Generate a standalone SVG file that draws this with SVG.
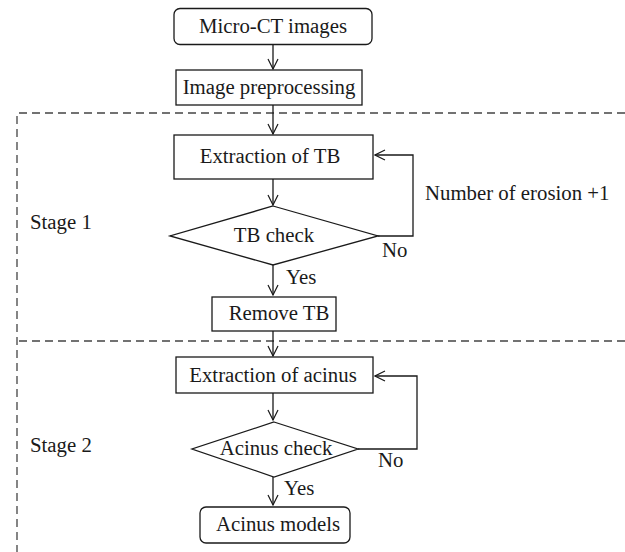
<svg xmlns="http://www.w3.org/2000/svg" width="625" height="552" viewBox="0 0 625 552">
<defs>
<marker id="arr" viewBox="0 0 12 12" refX="11" refY="6" markerWidth="12" markerHeight="12" markerUnits="userSpaceOnUse" orient="auto">
<path d="M1,1 L11,6 L1,11" fill="none" stroke="#1a1a1a" stroke-width="1.2"/>
</marker>
</defs>
<style>
.box{fill:#fff;stroke:#1a1a1a;stroke-width:1.3}
.t{font-family:"Liberation Serif","Times New Roman",serif;font-size:20.8px;fill:#1a1a1a}
.c{text-anchor:middle}
.ln{fill:none;stroke:#1a1a1a;stroke-width:1.3}
.dash{fill:none;stroke:#444;stroke-width:1.3;stroke-dasharray:8 5}
</style>
<g id="stages">
<path class="dash" d="M625,113 L17,113 L17,552"/>
<path class="dash" d="M625,341 L17,341"/>
<text class="t" x="30" y="229">Stage 1</text>
<text class="t" x="30" y="452">Stage 2</text>
</g>
<g id="connectors">
<line class="ln" x1="273" y1="44" x2="273" y2="69" marker-end="url(#arr)"/>
<line class="ln" x1="273" y1="105" x2="273" y2="134" marker-end="url(#arr)"/>
<line class="ln" x1="273" y1="179" x2="273" y2="205" marker-end="url(#arr)"/>
<path class="ln" d="M378,236 L413,236 L413,155 L375,155" marker-end="url(#arr)"/>
<line class="ln" x1="273" y1="265" x2="273" y2="295" marker-end="url(#arr)"/>
<line class="ln" x1="273" y1="331" x2="273" y2="356" marker-end="url(#arr)"/>
<line class="ln" x1="273" y1="393" x2="273" y2="420" marker-end="url(#arr)"/>
<path class="ln" d="M358,449 L417,449 L417,376 L375,376" marker-end="url(#arr)"/>
<line class="ln" x1="273" y1="477" x2="273" y2="505" marker-end="url(#arr)"/>
<text class="t" x="425" y="200">Number of erosion +1</text>
<text class="t" x="382" y="257">No</text>
<text class="t" x="286" y="284">Yes</text>
<text class="t" x="378" y="467">No</text>
<text class="t" x="284" y="495">Yes</text>
</g>
<g id="micro-ct">
<rect class="box" x="174" y="8.5" width="198" height="36" rx="6"/>
<text class="t c" x="273" y="33">Micro-CT images</text>
</g>
<g id="preprocessing">
<rect class="box" x="176" y="70" width="186" height="35"/>
<text class="t c" x="269" y="94">Image preprocessing</text>
</g>
<g id="extract-tb">
<rect class="box" x="174" y="135" width="199" height="44"/>
<text class="t c" x="270" y="163">Extraction of TB</text>
</g>
<g id="tb-check">
<polygon class="box" points="273,206 378,236 273,265 170,236"/>
<text class="t c" x="274" y="242">TB check</text>
</g>
<g id="remove-tb">
<rect class="box" x="212" y="297" width="124" height="34"/>
<text class="t c" x="279" y="320">Remove TB</text>
</g>
<g id="extract-acinus">
<rect class="box" x="176" y="357" width="197" height="36"/>
<text class="t c" x="273" y="382">Extraction of acinus</text>
</g>
<g id="acinus-check">
<polygon class="box" points="274,422 358,449 274,477 192,449"/>
<text class="t c" x="276" y="455">Acinus check</text>
</g>
<g id="acinus-models">
<rect class="box" x="200" y="507" width="150" height="36" rx="6"/>
<text class="t c" x="278" y="531">Acinus models</text>
</g>
</svg>
